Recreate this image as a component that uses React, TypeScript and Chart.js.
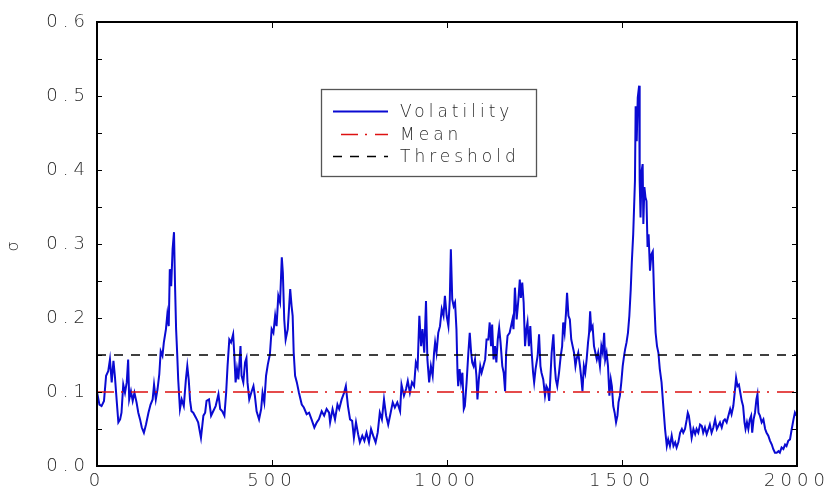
import React, { useEffect, useRef } from 'react';
import { Chart, registerables } from 'chart.js';

Chart.register(...registerables);

// ---- data ----
const xIndex = [
  0, 7, 13, 20, 26, 32, 37, 42, 47, 51, 56, 61, 66, 70, 75, 80, 85, 89, 92, 97,
  102, 107, 113, 118, 123, 128, 134, 140, 147, 153, 159, 163, 168, 173, 178, 182, 187, 191, 197, 201,
  205, 208, 212, 216, 220, 223, 226, 229, 232, 237, 242, 248, 254, 258, 262, 266, 270, 275, 283, 289,
  297, 304, 309, 313, 320, 326, 332, 339, 347, 352, 358, 364, 369, 373, 378, 383, 389, 392, 396, 400,
  404, 410, 413, 418, 423, 427, 430, 435, 442, 447, 451, 456, 463, 469, 473, 478, 483, 488, 494, 499,
  504, 509, 513, 518, 523, 528, 531, 535, 539, 545, 549, 552, 556, 559, 562, 566, 571, 577, 585, 591,
  599, 606, 613, 621, 628, 634, 642, 649, 656, 663, 666, 673, 680, 687, 692, 699, 706, 711, 717, 723,
  729, 734, 740, 746, 751, 758, 764, 770, 777, 783, 789, 796, 802, 808, 814, 820, 826, 832, 839, 845,
  851, 858, 866, 870, 877, 883, 888, 894, 900, 906, 911, 916, 921, 926, 930, 935, 940, 944, 949, 954,
  959, 963, 966, 970, 975, 980, 985, 990, 994, 999, 1004, 1008, 1011, 1015, 1019, 1023, 1027, 1030, 1032, 1036,
  1040, 1044, 1048, 1051, 1056, 1061, 1065, 1069, 1072, 1076, 1080, 1084, 1087, 1091, 1095, 1099, 1104, 1109, 1113, 1118,
  1122, 1126, 1129, 1133, 1137, 1141, 1145, 1149, 1153, 1158, 1162, 1166, 1169, 1173, 1179, 1183, 1187, 1190, 1194, 1199,
  1204, 1208, 1211, 1215, 1219, 1223, 1227, 1230, 1234, 1238, 1242, 1246, 1249, 1253, 1259, 1263, 1267, 1270, 1275, 1280,
  1284, 1288, 1292, 1299, 1304, 1308, 1311, 1315, 1320, 1325, 1329, 1332, 1336, 1340, 1343, 1347, 1351, 1355, 1359, 1363,
  1367, 1370, 1375, 1380, 1384, 1387, 1391, 1395, 1399, 1403, 1406, 1409, 1412, 1416, 1420, 1424, 1428, 1432, 1437, 1441,
  1445, 1449, 1452, 1456, 1460, 1464, 1468, 1471, 1475, 1479, 1483, 1487, 1490, 1494, 1498, 1502, 1506, 1509, 1513, 1517,
  1521, 1525, 1528, 1532, 1537, 1539, 1542, 1545, 1549, 1550, 1551, 1553, 1556, 1559, 1561, 1564, 1567, 1570, 1573, 1576,
  1580, 1584, 1588, 1592, 1596, 1600, 1604, 1608, 1613, 1618, 1623, 1628, 1632, 1637, 1642, 1647, 1652, 1656, 1661, 1666,
  1671, 1675, 1680, 1685, 1688, 1691, 1695, 1699, 1704, 1709, 1713, 1718, 1723, 1728, 1732, 1737, 1742, 1747, 1751, 1756,
  1761, 1766, 1771, 1775, 1780, 1785, 1790, 1794, 1799, 1804, 1809, 1813, 1818, 1822, 1826, 1830, 1834, 1838, 1842, 1846,
  1850, 1853, 1857, 1861, 1865, 1869, 1872, 1876, 1880, 1884, 1887, 1890, 1894, 1899, 1904, 1909, 1913, 1918, 1923, 1928,
  1932, 1937, 1942, 1947, 1951, 1956, 1961, 1966, 1970, 1975, 1980, 1985, 1990, 1994, 1998,
];

const volatility = [
  0.1, 0.083, 0.081, 0.088, 0.122, 0.128, 0.144, 0.113, 0.142, 0.122, 0.09, 0.059, 0.063, 0.072, 0.11, 0.099, 0.113, 0.144, 0.09, 0.101,
  0.088, 0.099, 0.086, 0.072, 0.063, 0.052, 0.045, 0.056, 0.072, 0.083, 0.09, 0.11, 0.09, 0.104, 0.124, 0.155, 0.149, 0.167, 0.185, 0.205,
  0.189, 0.266, 0.243, 0.293, 0.316, 0.243, 0.185, 0.153, 0.117, 0.077, 0.09, 0.081, 0.117, 0.135, 0.117, 0.088, 0.074, 0.072, 0.065, 0.059,
  0.038, 0.068, 0.072, 0.088, 0.09, 0.068, 0.074, 0.081, 0.097, 0.077, 0.074, 0.068, 0.099, 0.135, 0.171, 0.167, 0.178, 0.153, 0.113, 0.131,
  0.117, 0.162, 0.122, 0.113, 0.14, 0.146, 0.113, 0.09, 0.101, 0.108, 0.095, 0.074, 0.063, 0.077, 0.099, 0.086, 0.122, 0.137, 0.151, 0.185,
  0.18, 0.203, 0.189, 0.23, 0.221, 0.282, 0.261, 0.198, 0.171, 0.185, 0.216, 0.239, 0.216, 0.203, 0.153, 0.122, 0.113, 0.099, 0.083, 0.079,
  0.07, 0.072, 0.063, 0.052, 0.059, 0.063, 0.074, 0.068, 0.077, 0.072, 0.059, 0.077, 0.063, 0.083, 0.077, 0.09, 0.099, 0.108, 0.081, 0.063,
  0.061, 0.038, 0.059, 0.043, 0.032, 0.041, 0.034, 0.045, 0.032, 0.05, 0.041, 0.032, 0.045, 0.072, 0.063, 0.09, 0.068, 0.056, 0.072, 0.086,
  0.079, 0.086, 0.074, 0.11, 0.095, 0.104, 0.115, 0.099, 0.113, 0.108, 0.14, 0.133, 0.203, 0.162, 0.185, 0.153, 0.223, 0.144, 0.113, 0.135,
  0.122, 0.153, 0.167, 0.153, 0.18, 0.189, 0.212, 0.203, 0.23, 0.203, 0.189, 0.225, 0.293, 0.225, 0.216, 0.221, 0.185, 0.126, 0.108, 0.131,
  0.113, 0.126, 0.077, 0.081, 0.113, 0.153, 0.18, 0.153, 0.14, 0.135, 0.144, 0.122, 0.09, 0.117, 0.135, 0.126, 0.135, 0.144, 0.171, 0.171,
  0.194, 0.162, 0.191, 0.144, 0.162, 0.14, 0.171, 0.187, 0.167, 0.135, 0.126, 0.101, 0.153, 0.176, 0.18, 0.189, 0.198, 0.185, 0.241, 0.198,
  0.225, 0.252, 0.227, 0.248, 0.221, 0.162, 0.185, 0.194, 0.162, 0.189, 0.153, 0.126, 0.113, 0.131, 0.149, 0.178, 0.135, 0.126, 0.117, 0.095,
  0.108, 0.104, 0.088, 0.153, 0.178, 0.135, 0.117, 0.108, 0.126, 0.149, 0.162, 0.194, 0.18, 0.207, 0.234, 0.203, 0.198, 0.171, 0.162, 0.153,
  0.135, 0.144, 0.153, 0.135, 0.117, 0.101, 0.135, 0.126, 0.144, 0.167, 0.18, 0.209, 0.185, 0.189, 0.162, 0.153, 0.144, 0.153, 0.135, 0.162,
  0.153, 0.18, 0.144, 0.153, 0.135, 0.095, 0.117, 0.108, 0.081, 0.072, 0.059, 0.068, 0.086, 0.095, 0.113, 0.135, 0.149, 0.158, 0.167, 0.18,
  0.203, 0.239, 0.275, 0.313, 0.385, 0.486, 0.439, 0.498, 0.514, 0.439, 0.385, 0.336, 0.399, 0.408, 0.327, 0.377, 0.363, 0.358, 0.296, 0.313,
  0.264, 0.286, 0.29, 0.225, 0.18, 0.162, 0.153, 0.131, 0.113, 0.081, 0.05, 0.027, 0.036, 0.027, 0.041, 0.027, 0.032, 0.025, 0.032, 0.045,
  0.05, 0.045, 0.05, 0.063, 0.072, 0.068, 0.054, 0.038, 0.05, 0.043, 0.05, 0.045, 0.056, 0.054, 0.045, 0.052, 0.043, 0.05, 0.056, 0.045,
  0.052, 0.063, 0.05, 0.054, 0.059, 0.052, 0.061, 0.063, 0.059, 0.068, 0.077, 0.07, 0.081, 0.099, 0.119, 0.108, 0.11, 0.099, 0.088, 0.081,
  0.059, 0.05, 0.059, 0.05, 0.063, 0.068, 0.045, 0.063, 0.072, 0.09, 0.097, 0.072, 0.068, 0.059, 0.063, 0.05, 0.045, 0.041, 0.034, 0.029,
  0.023, 0.018, 0.018, 0.02, 0.018, 0.025, 0.023, 0.029, 0.027, 0.034, 0.036, 0.05, 0.063, 0.072, 0.068,
];

const meanLevel = 0.1;
const thresholdLevel = 0.15;
const xRange = [0, 2000];
const yRange = [0, 0.6];
const xStep = 500;
const yStep = 0.1;
const yMinorStep = 0.05;
const seriesLabels = ['Volatility', 'Mean', 'Threshold'];
const yTitle = 'σ';

const FONT = "'DejaVu Sans', 'Liberation Sans', sans-serif";
const TEXT_COLOR = '#2a2a2a';
const TEXT_WEIGHT = '200';
const BLUE = '#0a0ad2';
const RED = '#dd1111';
const MEAN_DASH = [17, 7, 2, 8];
const THRESH_DASH = [9, 8];
const AXIS_SPACING = '5px';
const LEGEND_SPACING = '4px';

const spacingPlugin = {
  id: 'spacing',
  beforeUpdate(chart: any) { (chart.ctx as any).letterSpacing = AXIS_SPACING; },
  beforeLayout(chart: any) { (chart.ctx as any).letterSpacing = AXIS_SPACING; },
  beforeDraw(chart: any) { (chart.ctx as any).letterSpacing = AXIS_SPACING; },
};

const framePlugin = {
  id: 'frame',
  afterDatasetsDraw(chart: any) {
    const { ctx, chartArea: ca, scales } = chart;
    ctx.save();
    ctx.strokeStyle = '#000';
    ctx.lineWidth = 1;
    ctx.beginPath();
    for (let v = yRange[0] + yMinorStep; v < yRange[1] - 1e-9; v += yMinorStep) {
      const py = Math.round(scales.y.getPixelForValue(v)) + 0.5;
      ctx.moveTo(ca.left, py); ctx.lineTo(ca.left + 5, py);
      ctx.moveTo(ca.right, py); ctx.lineTo(ca.right - 5, py);
    }
    for (let v = xRange[0] + xStep; v < xRange[1]; v += xStep) {
      const px = Math.round(scales.x.getPixelForValue(v)) + 0.5;
      ctx.moveTo(px, ca.bottom); ctx.lineTo(px, ca.bottom - 6);
      ctx.moveTo(px, ca.top); ctx.lineTo(px, ca.top + 6);
    }
    ctx.stroke();
    ctx.lineWidth = 2;
    ctx.strokeRect(ca.left, ca.top, ca.right - ca.left, ca.bottom - ca.top);
    ctx.restore();
  },
};

const legendPlugin = {
  id: 'boxLegend',
  afterDraw(chart: any) {
    const { ctx, chartArea: ca } = chart;
    const bx = ca.left + 224.5;
    const by = ca.top + 67.5;
    ctx.save();
    ctx.fillStyle = '#fff';
    ctx.fillRect(bx, by, 215, 87);
    ctx.strokeStyle = '#555';
    ctx.lineWidth = 1.3;
    ctx.strokeRect(bx, by, 215, 87);
    const rows = [ca.top + 89, ca.top + 111.5, ca.top + 134];
    chart.data.datasets.forEach((ds: any, i: number) => {
      const y = Math.round(rows[i]) + 0.5;
      ctx.beginPath();
      ctx.strokeStyle = ds.borderColor;
      ctx.lineWidth = ds.borderWidth;
      ctx.setLineDash(ds.borderDash || []);
      ctx.lineDashOffset = i === 1 ? 26 : 0;
      ctx.moveTo(ca.left + 236, y);
      ctx.lineTo(ca.left + 291, y);
      ctx.stroke();
      ctx.setLineDash([]);
      (ctx as any).letterSpacing = LEGEND_SPACING;
      ctx.font = `${TEXT_WEIGHT} 17px ${FONT}`;
      ctx.fillStyle = TEXT_COLOR;
      ctx.textBaseline = 'middle';
      ctx.textAlign = 'left';
      ctx.fillText(ds.label, ca.left + 303, y + 1);
    });
    ctx.restore();
  },
};

export default function App() {
  const canvasRef = useRef<HTMLCanvasElement | null>(null);

  useEffect(() => {
    document.body.style.margin = '0';
    const canvas = canvasRef.current;
    if (!canvas) return;
    const volPoints = xIndex.map((x, i) => ({ x, y: volatility[i] }));
    const chart = new Chart(canvas, {
      type: 'line',
      data: {
        datasets: [
          {
            label: seriesLabels[0],
            data: volPoints,
            borderColor: BLUE,
            borderWidth: 2,
            pointRadius: 0,
            tension: 0,
            order: 3,
          },
          {
            label: seriesLabels[1],
            data: [{ x: xRange[0], y: meanLevel }, { x: xRange[1], y: meanLevel }],
            borderColor: RED,
            borderWidth: 1.6,
            borderDash: MEAN_DASH,
            pointRadius: 0,
            order: 1,
          },
          {
            label: seriesLabels[2],
            data: [{ x: xRange[0], y: thresholdLevel }, { x: xRange[1], y: thresholdLevel }],
            borderColor: '#000',
            borderWidth: 1.6,
            borderDash: THRESH_DASH,
            pointRadius: 0,
            order: 2,
          },
        ],
      },
      options: {
        responsive: false,
        animation: false,
        devicePixelRatio: 1,
        layout: { padding: { top: 22, right: 31, left: 0, bottom: 0 } },
        plugins: { legend: { display: false }, tooltip: { enabled: false } },
        scales: {
          x: {
            type: 'linear',
            min: xRange[0],
            max: xRange[1],
            border: { display: false },
            grid: { display: false, drawTicks: false },
            ticks: {
              stepSize: xStep,
              maxRotation: 0,
              autoSkip: false,
              color: TEXT_COLOR,
              padding: 5,
              font: { family: FONT, size: 18, weight: TEXT_WEIGHT },
              callback: (v: any) => String(v),
            },
            afterFit: (s: any) => {
              s.height = 25;
              s.paddingLeft = 0;
              s.paddingRight = 0;
            },
          },
          y: {
            type: 'linear',
            min: yRange[0],
            max: yRange[1],
            border: { display: false },
            grid: { display: false, drawTicks: false },
            ticks: {
              stepSize: yStep,
              autoSkip: false,
              color: TEXT_COLOR,
              padding: 7,
              font: { family: FONT, size: 18, weight: TEXT_WEIGHT },
              callback: (v: any) => Number(v).toFixed(1),
            },
            title: {
              display: true,
              text: yTitle,
              color: TEXT_COLOR,
              font: { family: FONT, size: 16, weight: TEXT_WEIGHT },
              padding: { top: 4, bottom: 0 },
            },
            afterFit: (s: any) => {
              s.width = 97;
              s.paddingTop = 0;
              s.paddingBottom = 0;
            },
          },
        },
      },
      plugins: [spacingPlugin, framePlugin, legendPlugin],
    } as any);
    return () => chart.destroy();
  }, []);

  return (
    <div style={{ width: 828, height: 491, background: '#fff' }}>
      <canvas ref={canvasRef} width={828} height={491} style={{ display: 'block' }} />
    </div>
  );
}
